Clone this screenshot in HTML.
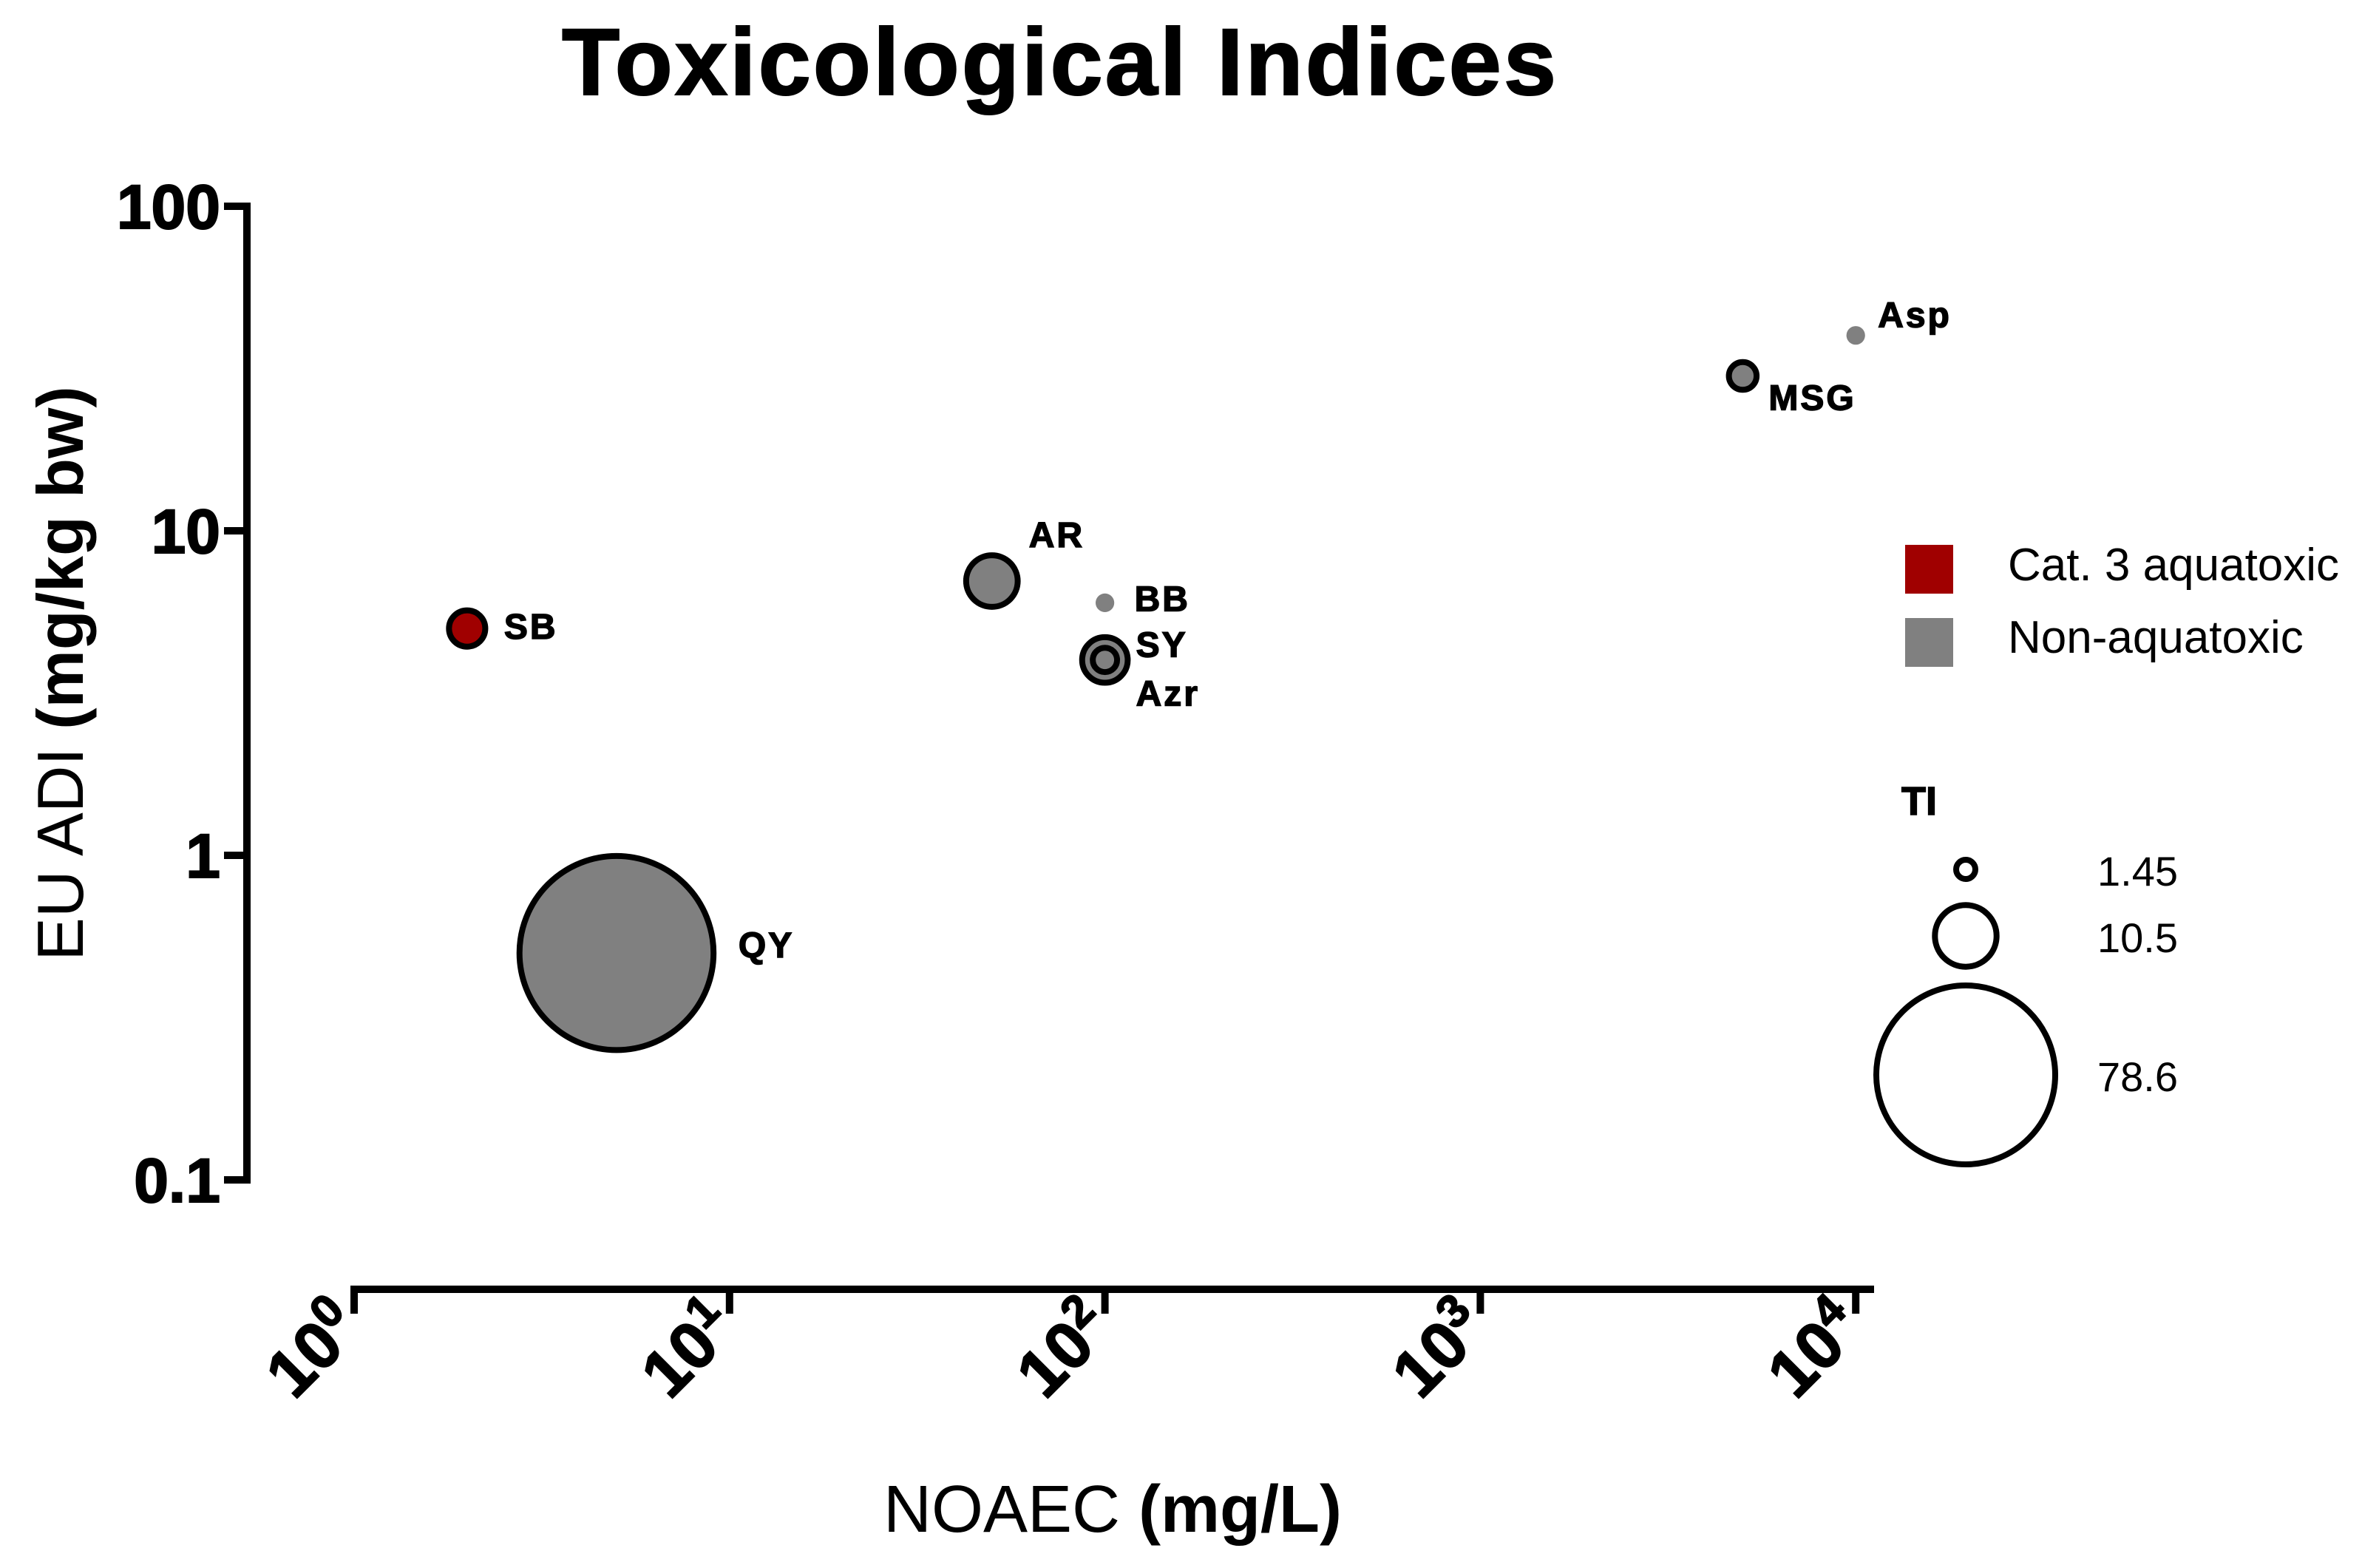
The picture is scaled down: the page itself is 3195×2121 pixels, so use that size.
<!DOCTYPE html>
<html><head><meta charset="utf-8"><style>
html,body{margin:0;padding:0;background:#fff;}
svg{display:block;font-family:"Liberation Sans",Arial,sans-serif;}
</style></head><body>
<svg id="chart" width="3195" height="2121" viewBox="0 0 3195 2121">
<text x="1434" y="128" text-anchor="middle" font-size="128" font-weight="bold" letter-spacing="3" stroke="#000" stroke-width="2">Toxicological Indices</text>
<g id="axes"></g>
<g id="points"></g>
<g id="legend">
<rect x="2577" y="737" width="65" height="66" fill="#a00000"/>
<text x="2716" y="785" font-size="62">Cat. 3 aquatoxic</text>
<rect x="2577" y="836" width="65" height="66" fill="#808080"/>
<text x="2716" y="883" font-size="62">Non-aquatoxic</text>
<text x="2572" y="1102" font-size="54" font-weight="bold" stroke="#000" stroke-width="1.5">TI</text>
</g>
<text x="1505" y="2072" text-anchor="middle" font-size="90">NOAEC <tspan font-weight="bold">(mg/L)</tspan></text>
<text transform="translate(112,911) rotate(-90)" text-anchor="middle" font-size="88">EU ADI <tspan font-weight="bold">(mg/kg bw)</tspan></text>
</svg>
<script>
const names = ["SB","QY","AR","BB","SY","Azr","MSG","Asp"];
const noaec = [2, 5, 50, 100, 100, 100, 5000, 10000];
const adi = [5, 0.5, 7, 6, 4, 4, 30, 40];
const ti = [4.1, 92, 7.6, 0.8, 6.1, 2.1, 2.6, 0.8];
const category = ["cat3","non","non","non","non","non","non","non"];
const stroked = [true,true,true,false,true,true,true,false];
const labelDx = [50, 165, 50, 40, 42, 42, 35, 30];
const labelDy = [-2, -10, -62, -5, -20, 46, 30, -27];
const xTicks = [1, 10, 100, 1000, 10000];
const xTickExp = ["0","1","2","3","4"];
const yTicks = [100, 10, 1, 0.1];
const yTickLabels = ["100","10","1","0.1"];
const legendTI = [1.45, 10.5, 78.6];
const legendTILabels = ["1.45","10.5","78.6"];

const NS = "http://www.w3.org/2000/svg";
const X0 = 479, XDEC = 507.8;
const Y1 = 1157, YDEC = 439;
function xs(v){ return X0 + Math.log10(v) * XDEC; }
function ys(v){ return Y1 - Math.log10(v) * YDEC; }
function rs(t){ return 14.1 * Math.sqrt(t); }
function mk(tag, attrs, parent){
  const e = document.createElementNS(NS, tag);
  for (const k in attrs) e.setAttribute(k, attrs[k]);
  parent.appendChild(e);
  return e;
}
const axes = document.getElementById('axes');
let e;
e = mk('line', {x1:334, y1:ys(100)-5, x2:334, y2:ys(0.1)+5, stroke:'#000','stroke-width':10}, axes);


yTicks.forEach((v,i)=>{
  e = mk('line', {x1:303, y1:ys(v), x2:334, y2:ys(v), stroke:'#000','stroke-width':10}, axes);
  
  
  e = mk('text', {x:298, y:ys(v)+30, 'text-anchor':'end','font-size':84,'font-weight':'bold',stroke:'#000','stroke-width':2}, axes);
  e.textContent = yTickLabels[i];
  
  
});
e = mk('line', {x1:474, y1:1744, x2:2535, y2:1744, stroke:'#000','stroke-width':10}, axes);


xTicks.forEach((v,i)=>{
  const x = xs(v);
  e = mk('line', {x1:x, y1:1740, x2:x, y2:1777, stroke:'#000','stroke-width':10}, axes);
  
  
  e = mk('text', {transform:'translate('+(x+14)+',1800) rotate(-45)', 'text-anchor':'end','font-size':90,'font-weight':'bold',stroke:'#000','stroke-width':2}, axes);
  
  
  const t1 = mk('tspan', {}, e); t1.textContent = '10';
  const t2 = mk('tspan', {'font-size':62, dy:-34}, e); t2.textContent = xTickExp[i];
});
const pts = document.getElementById('points');
names.forEach((n,i)=>{
  const cx = xs(noaec[i]), cy = ys(adi[i]);
  const r = rs(ti[i]);
  const fill = category[i]==='cat3' ? '#a00000' : '#808080';
  e = mk('circle', {cx:cx, cy:cy, r: stroked[i] ? Math.max(r-4,2) : r, fill:fill, stroke: stroked[i] ? '#000' : 'none', 'stroke-width':8}, pts);
  
  
  e = mk('text', {x:cx+labelDx[i], y:cy+labelDy[i]+16, 'font-size':48,'font-weight':'bold','letter-spacing':3,stroke:'#000','stroke-width':1.5}, pts);
  e.textContent = n;
  
  
});
const lg = document.getElementById('legend');
const legY = [1176, 1266, 1454];
legendTI.forEach((t,i)=>{
  e = mk('circle', {cx:2659, cy:legY[i], r:rs(t)-4, fill:'none', stroke:'#000','stroke-width':8}, lg);
  
  
  e = mk('text', {x:2837, y:legY[i]+22, 'font-size':56}, lg);
  e.textContent = legendTILabels[i];
  
  
});
</script>
</body></html>
